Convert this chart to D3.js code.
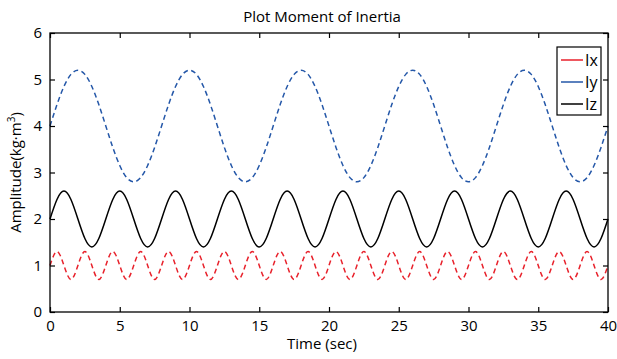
<!DOCTYPE html>
<html>
<head>
<meta charset="utf-8">
<script src="https://cdn.jsdelivr.net/npm/d3@7"></script>
<style>
  body { margin: 0; background: #fff; }
  svg text { font-family: "Open Sans", "Noto Sans", sans-serif; }
</style>
</head>
<body>
<svg id="chart"></svg>
<script>
// sample times (sec)
const time = [
  0, 0.5, 1, 1.5, 2, 2.5, 3, 3.5, 4, 4.5, 5, 5.5, 6, 6.5, 7, 7.5, 8, 8.5, 9, 9.5,
  10, 10.5, 11, 11.5, 12, 12.5, 13, 13.5, 14, 14.5, 15, 15.5, 16, 16.5, 17, 17.5, 18, 18.5, 19, 19.5,
  20, 20.5, 21, 21.5, 22, 22.5, 23, 23.5, 24, 24.5, 25, 25.5, 26, 26.5, 27, 27.5, 28, 28.5, 29, 29.5,
  30, 30.5, 31, 31.5, 32, 32.5, 33, 33.5, 34, 34.5, 35, 35.5, 36, 36.5, 37, 37.5, 38, 38.5, 39, 39.5,
  40
];

const ix = [
  1, 1.3, 1, 0.7, 1, 1.3, 1, 0.7, 1, 1.3, 1, 0.7, 1, 1.3, 1, 0.7, 1, 1.3, 1, 0.7,
  1, 1.3, 1, 0.7, 1, 1.3, 1, 0.7, 1, 1.3, 1, 0.7, 1, 1.3, 1, 0.7, 1, 1.3, 1, 0.7,
  1, 1.3, 1, 0.7, 1, 1.3, 1, 0.7, 1, 1.3, 1, 0.7, 1, 1.3, 1, 0.7, 1, 1.3, 1, 0.7,
  1, 1.3, 1, 0.7, 1, 1.3, 1, 0.7, 1, 1.3, 1, 0.7, 1, 1.3, 1, 0.7, 1, 1.3, 1, 0.7,
  1
];

const iy = [
  4, 4.46, 4.85, 5.11, 5.2, 5.11, 4.85, 4.46, 4, 3.54, 3.15, 2.89, 2.8, 2.89, 3.15, 3.54,
  4, 4.46, 4.85, 5.11, 5.2, 5.11, 4.85, 4.46, 4, 3.54, 3.15, 2.89, 2.8, 2.89, 3.15, 3.54,
  4, 4.46, 4.85, 5.11, 5.2, 5.11, 4.85, 4.46, 4, 3.54, 3.15, 2.89, 2.8, 2.89, 3.15, 3.54,
  4, 4.46, 4.85, 5.11, 5.2, 5.11, 4.85, 4.46, 4, 3.54, 3.15, 2.89, 2.8, 2.89, 3.15, 3.54,
  4, 4.46, 4.85, 5.11, 5.2, 5.11, 4.85, 4.46, 4, 3.54, 3.15, 2.89, 2.8, 2.89, 3.15, 3.54,
  4
];

const iz = [
  2, 2.42, 2.6, 2.42, 2, 1.58, 1.4, 1.58, 2, 2.42, 2.6, 2.42, 2, 1.58, 1.4, 1.58,
  2, 2.42, 2.6, 2.42, 2, 1.58, 1.4, 1.58, 2, 2.42, 2.6, 2.42, 2, 1.58, 1.4, 1.58,
  2, 2.42, 2.6, 2.42, 2, 1.58, 1.4, 1.58, 2, 2.42, 2.6, 2.42, 2, 1.58, 1.4, 1.58,
  2, 2.42, 2.6, 2.42, 2, 1.58, 1.4, 1.58, 2, 2.42, 2.6, 2.42, 2, 1.58, 1.4, 1.58,
  2, 2.42, 2.6, 2.42, 2, 1.58, 1.4, 1.58, 2, 2.42, 2.6, 2.42, 2, 1.58, 1.4, 1.58,
  2
];

const xTicks = [0, 5, 10, 15, 20, 25, 30, 35, 40];
const yTicks = [0, 1, 2, 3, 4, 5, 6];

const seriesNames = ['Ix', 'Iy', 'Iz'];
const seriesValues = [ix, iy, iz];
const seriesColors = ['#e8212b', '#2457a8', '#000000'];
const seriesDash = ['5,3.5', '5,3.5', null];

const width = 617, height = 359;
const margin = {top: 33, right: 9, bottom: 47, left: 50};
const innerW = width - margin.left - margin.right;
const innerH = height - margin.top - margin.bottom;

const svg = d3.select('#chart')
  .attr('width', width)
  .attr('height', height);

const chart = svg.append('g')
  .attr('transform', `translate(${margin.left}, ${margin.top})`);

const xscale = d3.scaleLinear().domain([0, 40]).range([0, innerW]);
const yscale = d3.scaleLinear().domain([0, 6]).range([innerH, 0]);

// lines
const line = d3.line()
  .x(d => xscale(d[0]))
  .y(d => yscale(d[1]))
  .curve(d3.curveNatural);

seriesValues.forEach((vals, i) => {
  chart.append('path')
    .datum(time.map((t, k) => [t, vals[k]]))
    .attr('fill', 'none')
    .attr('stroke', seriesColors[i])
    .attr('stroke-width', 1.5)
    .attr('stroke-dasharray', seriesDash[i])
    .attr('d', line);
});

// axes (ticks pointing inward)
const fmt = d3.format('d');
const xaxis = d3.axisBottom(xscale).tickValues(xTicks).tickFormat(fmt).tickSizeInner(-5).tickSizeOuter(0).tickPadding(8);
const yaxis = d3.axisLeft(yscale).tickValues(yTicks).tickFormat(fmt).tickSizeInner(-5).tickSizeOuter(0).tickPadding(8);

chart.append('g').attr('transform', `translate(0, ${innerH})`).call(xaxis);
chart.append('g').call(yaxis);
chart.append('g').call(d3.axisTop(xscale).tickValues(xTicks).tickSizeInner(-5).tickSizeOuter(0).tickFormat(''));
chart.append('g').attr('transform', `translate(${innerW}, 0)`)
  .call(d3.axisRight(yscale).tickValues(yTicks).tickSizeInner(-5).tickSizeOuter(0).tickFormat(''));

chart.selectAll('.domain').remove();
chart.selectAll('.tick line').attr('stroke', '#000').attr('stroke-width', 1.2);
chart.selectAll('.tick text').attr('font-size', 15).attr('fill', '#000');

chart.append('rect')
  .attr('width', innerW)
  .attr('height', innerH)
  .attr('fill', 'none')
  .attr('stroke', '#000')
  .attr('stroke-width', 1.3);

// title and labels
svg.append('text')
  .attr('x', 322).attr('y', 22)
  .attr('text-anchor', 'middle')
  .attr('font-size', 15)
  .text('Plot Moment of Inertia');

svg.append('text')
  .attr('x', 322).attr('y', 349)
  .attr('text-anchor', 'middle')
  .attr('font-size', 15)
  .text('Time (sec)');

const ylab = svg.append('text')
  .attr('text-anchor', 'middle')
  .attr('transform', `translate(21, ${margin.top + innerH / 2}) rotate(-90)`)
  .attr('font-size', 15);
ylab.append('tspan').text('Amplitude(kg·m');
ylab.append('tspan').attr('font-size', 10).attr('dy', -6).text('3');
ylab.append('tspan').attr('dy', 6).text(')');

// legend
const legend = svg.append('g').attr('transform', 'translate(557, 47)');
legend.append('rect')
  .attr('width', 44).attr('height', 68)
  .attr('fill', '#fff')
  .attr('stroke', '#000')
  .attr('stroke-width', 1.2);

seriesNames.forEach((name, i) => {
  const yy = 13 + i * 22;
  legend.append('line')
    .attr('x1', 4).attr('x2', 26)
    .attr('y1', yy).attr('y2', yy)
    .attr('stroke', seriesColors[i])
    .attr('stroke-width', 1.5);
  legend.append('text')
    .attr('x', 28).attr('y', yy + 6)
    .attr('font-size', 16)
    .text(name);
});
</script>
</body>
</html>
